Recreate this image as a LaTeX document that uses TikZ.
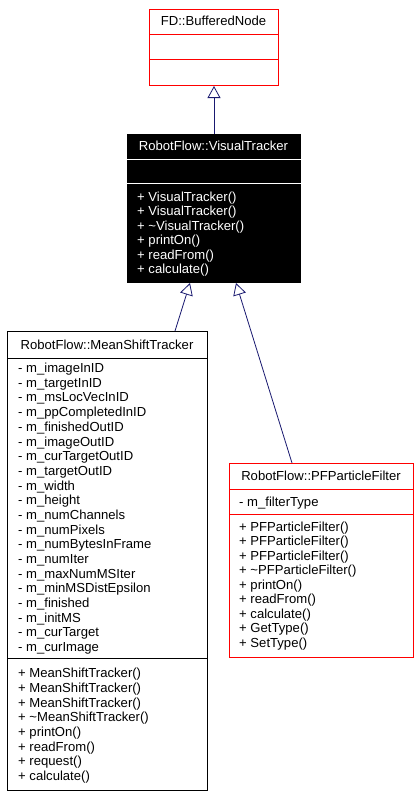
\documentclass[tikz,border=0pt]{standalone}
\usepackage{fontspec}
\setmainfont{Liberation Sans}
\usetikzlibrary{arrows.meta}
\definecolor{edgeblue}{RGB}{25,25,112}
\definecolor{boxred}{RGB}{255,0,0}
\begin{document}
\begin{tikzpicture}[x=1pt,y=-1pt,
  txt/.style={anchor=west,inner sep=0pt,font=\fontsize{13.1}{14}\selectfont,text height=9.8pt,text depth=2.6pt},
  ttl/.style={txt,anchor=center},
  cls/.style={draw,line width=1pt,anchor=north west,inner sep=0pt},
  inh/.style={draw=edgeblue,line width=0.8pt,-{Triangle[open,length=12pt,width=13pt,line width=0.8pt]}}]
\useasboundingbox (0,0) rectangle (420,796);
\fill[white] (0,0) rectangle (420,796);

% FD::BufferedNode
\node[cls,draw=boxred,minimum width=129pt,minimum height=76pt] (bn) at (149,9) {};
\draw[boxred,line width=1pt] (bn.west |- 0,34) -- (bn.east |- 0,34);
\draw[boxred,line width=1pt] (bn.west |- 0,59) -- (bn.east |- 0,59);
\node[ttl] (bnT) at (213.5,21.5) {FD::BufferedNode};

% RobotFlow::VisualTracker
\node[cls,fill=black,minimum width=173pt,minimum height=148pt] (vt) at (127,134) {};
\draw[white,line width=1pt] (vt.west |- 0,159) -- (vt.east |- 0,159);
\draw[white,line width=1pt] (vt.west |- 0,183) -- (vt.east |- 0,183);
\node[ttl,text=white] (vtT) at (213.5,146.5) {RobotFlow::VisualTracker};
\foreach \t [count=\i from 0] in {+ VisualTracker(),+ VisualTracker(),+ \textasciitilde VisualTracker(),+ printOn(),+ readFrom(),+ calculate()}
  \node[txt,text=white] (vtM\i) at (137,197.5+\i*14.5) {\t};

% RobotFlow::MeanShiftTracker
\node[cls,minimum width=200pt,minimum height=459pt] (mst) at (7,331) {};
\draw[line width=1pt] (mst.west |- 0,358) -- (mst.east |- 0,358);
\draw[line width=1pt] (mst.west |- 0,658) -- (mst.east |- 0,658);
\node[ttl] (mstT) at (107,345.5) {RobotFlow::MeanShiftTracker};
\foreach \t [count=\i from 0] in {- m\_imageInID,- m\_targetInID,- m\_msLocVecInID,- m\_ppCompletedInID,- m\_finishedOutID,- m\_imageOutID,- m\_curTargetOutID,- m\_targetOutID,- m\_width,- m\_height,- m\_numChannels,- m\_numPixels,- m\_numBytesInFrame,- m\_numIter,- m\_maxNumMSIter,- m\_minMSDistEpsilon,- m\_finished,- m\_initMS,- m\_curTarget,- m\_curImage}
  \node[txt] (mstA\i) at (18,369+\i*14.68) {\t};
\foreach \t [count=\i from 0] in {+ MeanShiftTracker(),+ MeanShiftTracker(),+ MeanShiftTracker(),+ \textasciitilde MeanShiftTracker(),+ printOn(),+ readFrom(),+ request(),+ calculate()}
  \node[txt] (mstM\i) at (18,674+\i*14.71) {\t};

% RobotFlow::PFParticleFilter
\node[cls,draw=boxred,minimum width=184pt,minimum height=194pt] (pf) at (229,463) {};
\draw[boxred,line width=1pt] (pf.west |- 0,489) -- (pf.east |- 0,489);
\draw[boxred,line width=1pt] (pf.west |- 0,514) -- (pf.east |- 0,514);
\node[ttl] (pfT) at (321,476.5) {RobotFlow::PFParticleFilter};
\node[txt] (pfA0) at (239,502.5) {- m\_filterType};
\foreach \t [count=\i from 0] in {+ PFParticleFilter(),+ PFParticleFilter(),+ PFParticleFilter(),+ \textasciitilde PFParticleFilter(),+ printOn(),+ readFrom(),+ calculate(),+ GetType(),+ SetType()}
  \node[txt] (pfM\i) at (239,527.5+\i*14.5) {\t};

% inheritance connectors
\draw[inh] (vt.north) -- (bn.south);
\draw[inh] ([xshift=168pt]mst.north west) -- ([xshift=63pt]vt.south west);
\draw[inh] ([xshift=63pt]pf.north west) -- ([xshift=109pt]vt.south west);
\end{tikzpicture}
\end{document}
